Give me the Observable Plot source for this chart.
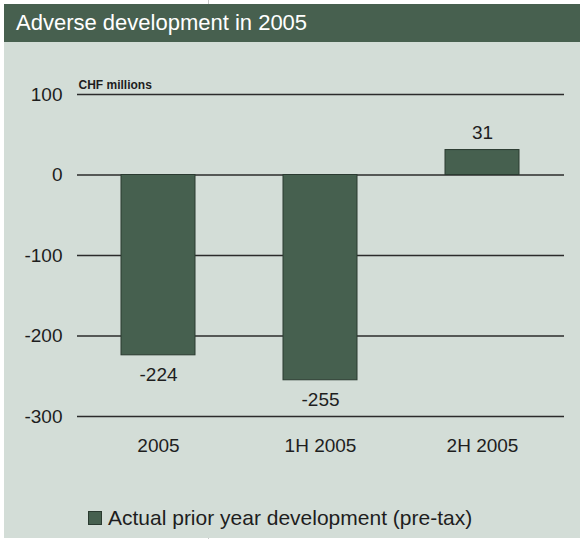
<!DOCTYPE html>
<html>
<head>
<meta charset="utf-8">
<script src="https://cdn.jsdelivr.net/npm/d3@7"></script>
<script src="https://cdn.jsdelivr.net/npm/@observablehq/plot@0.6"></script>
<style>
  html, body { margin: 0; padding: 0; background: #ffffff; }
  body { width: 580px; height: 539px; position: relative; overflow: hidden; font-family: "Liberation Sans", Arial, sans-serif; }
  #panel { position: absolute; left: 4px; top: 4px; width: 576px; height: 534px; background: #d3ddd7; }
  #title { height: 38px; background: #47604f; color: #ffffff; font-size: 22px; line-height: 38px; padding-left: 12px; box-sizing: border-box; }
  #legend { height: 76px; box-sizing: border-box; padding-top: 36px; padding-left: 84px; font-size: 21px; color: #1e1e1e; display: flex; align-items: center; }
  #legend .sw { width: 14px; height: 14px; background: #46604f; border: 1px solid #2a3a30; box-sizing: border-box; margin-right: 6px; }
  .tick { position: absolute; left: 208px; width: 1px; background: #c8c8c8; }
  svg { display: block; }
</style>
</head>
<body>
<div class="tick" style="top:0;height:4px"></div>
<div class="tick" style="top:538px;height:1px"></div>
<div id="panel">
  <div id="title">Adverse development in 2005</div>
  <div id="chart"></div>
  <div id="legend"><span class="sw"></span><span id="legtext"></span></div>
</div>
<script>
const categories = ["2005", "1H 2005", "2H 2005"];
const values = [-224, -255, 31];
const yTicks = [100, 0, -100, -200, -300];
const unitLabel = "CHF millions";
const seriesName = "Actual prior year development (pre-tax)";

const data = categories.map((c, i) => ({category: c, value: values[i]}));
document.getElementById("legtext").textContent = seriesName;

const fmt = d => String(d).replace("\u2212", "-");

const chart = Plot.plot({
  width: 576,
  height: 420,
  marginTop: 52,
  marginBottom: 46,
  marginLeft: 73,
  marginRight: 16,
  style: {background: "transparent", fontFamily: "Liberation Sans, Arial, sans-serif", color: "#1e1e1e"},
  x: {domain: categories, paddingInner: 0.543, paddingOuter: 0.2715, label: null},
  y: {domain: [-300, 100], ticks: yTicks, label: null},
  marks: [
    Plot.ruleY(yTicks, {stroke: "#2b2b2b", strokeWidth: 1.4}),
    Plot.barY(data, {x: "category", y: "value", fill: "#46604f", stroke: "#2a3a30", strokeWidth: 1}),
    Plot.axisY({ticks: yTicks, tickSize: 0, tickPadding: 15, fontSize: 19, tickFormat: fmt, fill: "#1e1e1e"}),
    Plot.axisX({tickSize: 0, tickPadding: 22, fontSize: 19, fill: "#1e1e1e"}),
    Plot.text(data.filter(d => d.value < 0), {x: "category", y: "value", text: d => fmt(d.value), dy: 20, lineAnchor: "middle", fontSize: 19, fill: "#1e1e1e"}),
    Plot.text(data.filter(d => d.value >= 0), {x: "category", y: "value", text: d => fmt(d.value), dy: -17.5, lineAnchor: "middle", fontSize: 19, fill: "#1e1e1e"}),
    Plot.text([unitLabel], {frameAnchor: "top-left", dx: 1, dy: -6, textAnchor: "start", lineAnchor: "bottom", fontSize: 12, fontWeight: "bold", fill: "#1e1e1e"})
  ]
});
document.getElementById("chart").appendChild(chart);
</script>
</body>
</html>
